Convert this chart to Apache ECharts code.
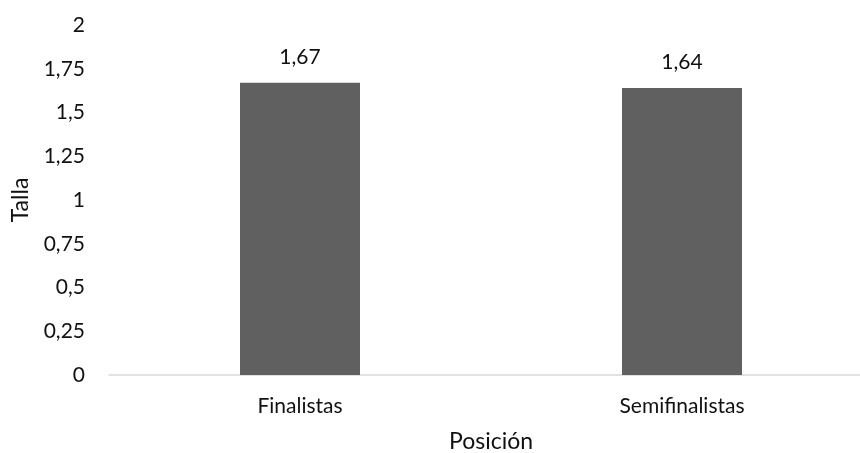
<!DOCTYPE html>
<html>
<head>
<meta charset="utf-8">
<script src="https://cdn.jsdelivr.net/npm/echarts@6/dist/echarts.min.js"></script>
<style>
  html, body { margin: 0; padding: 0; background: #fff; }
  #chart { width: 860px; height: 453px; }
</style>
</head>
<body>
<div id="chart"></div>
<script>
// Average height by competition position
const categories = ['Finalistas', 'Semifinalistas'];
const tallaValues = [1.67, 1.64];
const yMin = 0;
const yMax = 2;
const yStep = 0.25;

const fmt = v => String(v).replace('.', ',');
const FONT = 'Lato, "Open Sans", sans-serif';
const INK = '#111';

const chart = echarts.init(document.getElementById('chart'));
chart.setOption({
  animation: false,
  grid: {
    left: 109, top: 25, width: 764, height: 350,
    containLabel: false,
    outerBoundsMode: 'none'
  },
  xAxis: {
    type: 'category',
    data: categories,
    name: 'Posición',
    nameLocation: 'middle',
    nameGap: 55,
    nameTextStyle: { fontFamily: FONT, fontSize: 23, color: INK },
    axisLine: { lineStyle: { color: '#d9d9d9', width: 1.5 } },
    axisTick: { show: false },
    axisLabel: { fontFamily: FONT, fontSize: 21, color: INK, margin: 21 }
  },
  yAxis: {
    type: 'value',
    min: yMin,
    max: yMax,
    interval: yStep,
    name: 'Talla',
    nameLocation: 'middle',
    nameGap: 77,
    nameTextStyle: { fontFamily: FONT, fontSize: 23, color: INK },
    splitLine: { show: false },
    axisLine: { show: false },
    axisTick: { show: false },
    axisLabel: {
      fontFamily: FONT, fontSize: 21, color: INK, margin: 24,
      formatter: v => fmt(v)
    }
  },
  series: [{
    type: 'bar',
    data: tallaValues,
    barWidth: 120,
    itemStyle: { color: '#606060' },
    label: {
      show: true,
      position: 'top',
      distance: 15,
      fontFamily: FONT,
      fontSize: 21,
      color: INK,
      formatter: p => fmt(p.value)
    }
  }]
});
</script>
</body>
</html>
